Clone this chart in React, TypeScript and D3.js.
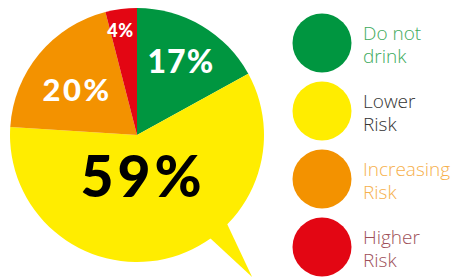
import React, { useRef, useEffect } from "react";
import * as d3 from "d3";

const categories = ["Do not drink", "Lower Risk", "Increasing Risk", "Higher Risk"];
const values = [17, 59, 20, 4];
const legendLines = [["Do not", "drink"], ["Lower", "Risk"], ["Increasing", "Risk"], ["Higher", "Risk"]];
const sliceColors = ["#009640", "#FFED00", "#F39200", "#E30613"];
const textColors = ["#3DAA5C", "#333333", "#F6B04C", "#9E4F58"];
const pctColors = ["#ffffff", "#000000", "#ffffff", "#ffffff"];

const App = () => {
    const ref = useRef(null);

    useEffect(() => {
        const width = 455;
        const height = 278;
        const cx = 137;
        const cy = 135;
        const r = 127;

        const svg = d3.create("svg")
            .attr("width", width)
            .attr("height", height)
            .attr("viewBox", [0, 0, width, height])
            .style("position", "absolute")
            .style("left", "0px")
            .style("top", "0px");

        const pie = d3.pie().sort(null).value(d => d);
        const arcs = pie(values);
        const arc = d3.arc().innerRadius(0).outerRadius(r);

        const g = svg.append("g").attr("transform", `translate(${cx},${cy})`);

        // speech bubble tail, hangs off the yellow slice
        const deg = d3.scaleLinear().domain([0, 360]).range([0, 2 * Math.PI]);
        const pt = (a, rad) => [rad * Math.sin(deg(a)), -rad * Math.cos(deg(a))];
        const tail = [pt(134, r - 4), pt(141, r * 1.44), pt(145, r - 4)];
        g.append("path")
            .attr("d", d3.line()(tail) + "Z")
            .attr("fill", sliceColors[1]);

        g.selectAll("path.slice")
            .data(arcs)
            .join("path")
            .attr("class", "slice")
            .attr("d", arc)
            .attr("fill", (d, i) => sliceColors[i]);

        // percentage labels
        const labelPos = [
            { rad: 0.67, off: 0, size: 32, ls: 1 },
            { rad: 0.33, off: 7, size: 57, ls: 4 },
            { rad: 0.6, off: -3, size: 31, ls: 2.5 },
            { rad: 0.83, off: -2, size: 18, ls: 0.5 },
        ];
        arcs.forEach((d, i) => {
            const lp = labelPos[i];
            const mid = (d.startAngle + d.endAngle) / 2 + (lp.off * Math.PI) / 180;
            const rr = r * lp.rad;
            g.append("text")
                .attr("x", rr * Math.sin(mid) + lp.ls / 2)
                .attr("y", -rr * Math.cos(mid))
                .attr("dy", "0.36em")
                .attr("text-anchor", "middle")
                .attr("fill", pctColors[i])
                .style("font-family", "Lato")
                .style("font-weight", 900)
                .style("font-size", lp.size + "px")
                .style("letter-spacing", lp.ls + "px")
                .text(d.data + "%");
        });

        // legend
        const y = d3.scalePoint().domain(categories).range([43, 247]);
        const legend = svg.append("g");
        categories.forEach((c, i) => {
            const row = legend.append("g").attr("transform", `translate(0,${y(c)})`);
            row.append("circle")
                .attr("cx", 322)
                .attr("cy", 0)
                .attr("r", 29.5)
                .attr("fill", sliceColors[i]);
            const t = row.append("text")
                .attr("x", 363)
                .attr("fill", textColors[i])
                .style("font-family", "Open Sans")
                .style("font-weight", 300)
                .style("font-size", "19px");
            legendLines[i].forEach((line, j) => {
                t.append("tspan").attr("x", 363).attr("y", j === 0 ? -3.5 : 20).text(line);
            });
        });

        ref.current.innerHTML = "";
        ref.current.appendChild(svg.node());
    }, []);

    return <div ref={ref} />;
};

export default App;
